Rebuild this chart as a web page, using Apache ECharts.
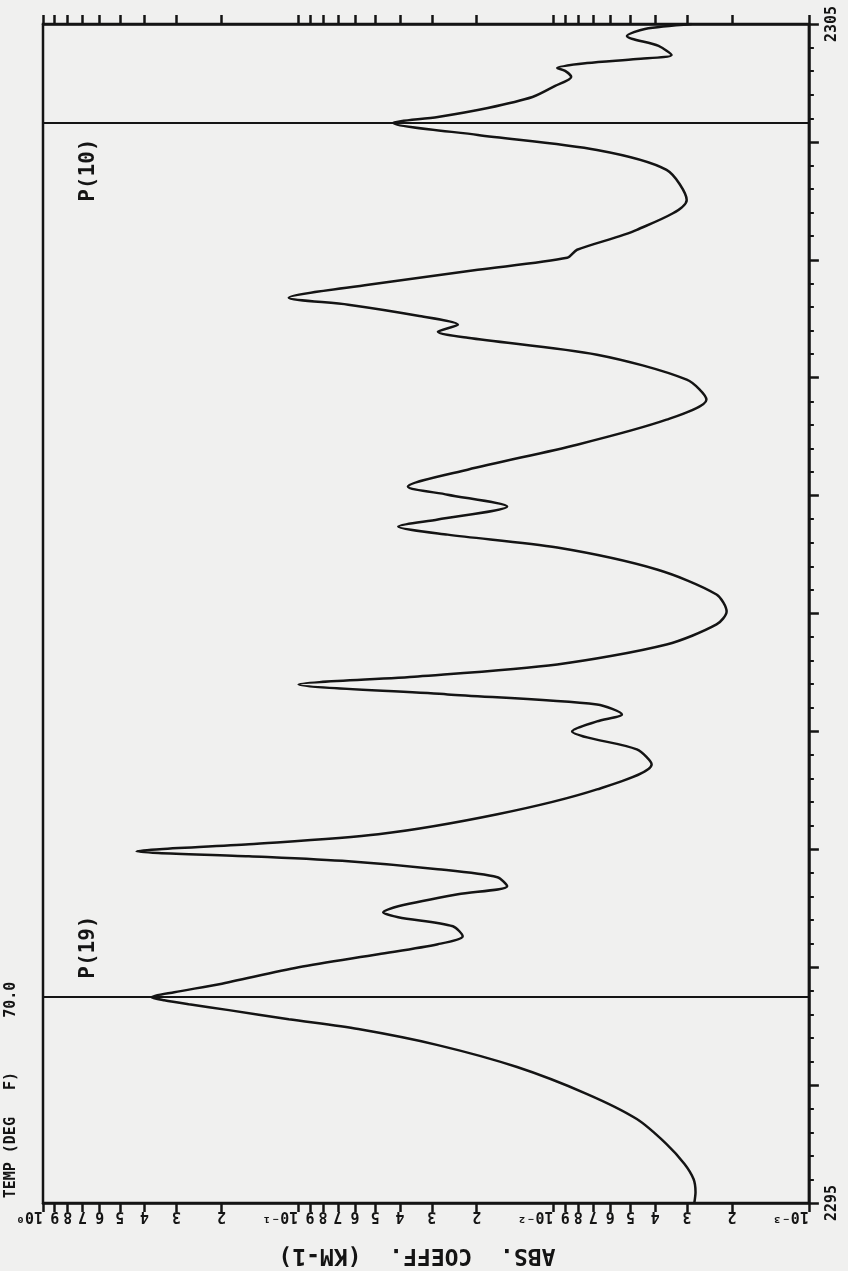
<!DOCTYPE html>
<html><head><meta charset="utf-8">
<script src="https://cdn.jsdelivr.net/npm/echarts@6/dist/echarts.min.js"></script>
<style>html,body{margin:0;padding:0;background:#f0f0ef;} #c{width:848px;height:1271px;}</style>
</head><body><div id="c"></div>
<script>
// wavenumber (cm-1) along the curve, and absorption coefficient (km-1)
const wavenumber = [2295.000,2295.093,2295.203,2295.331,2295.500,2295.712,2295.924,2296.153,2296.339,2296.475,
  2296.559,2296.636,2296.686,2296.720,2296.746,
  2296.788,2296.856,2297.000,2297.110,2297.195,2297.263,2297.347,2297.424,2297.466,2297.517,
  2297.619,2297.686,2297.763,2297.831,2297.898,2297.941,2297.983,2298.042,2298.127,2298.297,
  2298.508,2298.720,2298.847,2298.949,2299.000,2299.085,2299.144,2299.229,2299.314,2299.398,
  2299.466,2299.568,2299.737,2299.907,2300.017,2300.161,2300.373,2300.559,2300.669,2300.737,
  2300.797,2300.907,2301.008,2301.076,2301.220,2301.432,2301.644,2301.814,2301.983,2302.195,
  2302.339,2302.390,2302.449,2302.525,2302.619,2302.678,2302.788,2302.915,2303.017,2303.085,
  2303.254,2303.508,2303.763,2303.932,2304.059,
  2304.161,2304.212,2304.288,2304.381,2304.475,2304.551,2304.602,2304.627,2304.669,2304.703,
  2304.737,2304.814,2304.898,2304.958,2305.000];
const absCoef = [0.00281,0.00278,0.00283,0.00307,0.00361,0.00472,0.00739,0.0139,0.0284,0.0582,
  0.109,0.187,0.268,0.335,0.376,
  0.306,0.204,0.0997,0.0486,0.0284,0.0227,0.0248,0.0406,0.0465,0.0406,
  0.0237,0.0152,0.0166,0.0284,0.0637,0.156,0.430,0.156,0.0486,0.0166,
  0.00676,0.00413,0.00472,0.00739,0.00846,0.00676,0.00540,0.00676,0.0260,0.0997,
  0.0340,0.00968,0.00361,0.00230,0.00210,0.00230,0.00394,0.00968,0.0260,0.0406,
  0.0284,0.0152,0.0260,0.0372,0.0217,0.00809,0.00361,0.00252,0.00301,0.00676,
  0.0217,0.0284,0.0237,0.0340,0.0637,0.109,0.0532,0.0198,0.00885,0.00809,
  0.00472,0.00301,0.00361,0.00676,0.0198,
  0.0425,0.0284,0.0181,0.0121,0.00986,0.00853,0.00901,0.00968,0.00739,0.00472,
  0.00345,0.00388,0.00516,0.00439,0.00288];

// log axis ticks and their labels
const logTickValues = [0.001,0.002,0.003,0.004,0.005,0.006,0.007,0.008,0.009,
  0.01,0.02,0.03,0.04,0.05,0.06,0.07,0.08,0.09,
  0.1,0.2,0.3,0.4,0.5,0.6,0.7,0.8,0.9,1];
const digitTickValues = [0.002,0.003,0.004,0.005,0.006,0.007,0.008,0.009,
  0.02,0.03,0.04,0.05,0.06,0.07,0.08,0.09,
  0.2,0.3,0.4,0.5,0.6,0.7,0.8,0.9];
const decadeValues = [0.001, 0.01, 0.1, 1];
const decadeLabels = ['10\u207B\u00B3', '10\u207B\u00B2', '10\u207B\u00B9', '10\u2070'];
const wnLabelValues = [2295, 2305];

// emission lines
const lineNames = ['P(19)', 'P(10)'];
const lineWavenumbers = [2296.746, 2304.161];
const lineLabelCoef = [0.662, 0.662];
const lineLabelWn = [2297.17, 2303.76];

const INK = '#141414';
const FONT = '"DejaVu Sans Mono", monospace';

function digitLabel(val) {
  // leading digit of the tick value
  return String(Math.round(val / Math.pow(10, Math.floor(Math.log10(val) + 1e-9))));
}
function decadeLabel(val) {
  const i = decadeValues.findIndex(v => Math.abs(Math.log10(v) - Math.log10(val)) < 1e-6);
  if (i < 0) return '';
  const s = decadeLabels[i];
  return ' '.repeat(s.length) + s;
}

const labelStyle = { color: INK, fontFamily: FONT, fontWeight: 'bold', fontSize: 15 };
const lineStyleAxis = { color: INK, width: 2.5 };

function baseX(pos) {
  return {
    type: 'log', logBase: 10, min: 0.001, max: 1, inverse: true, position: pos,
    splitLine: { show: false }
  };
}

const xAxes = [
  Object.assign(baseX('bottom'), {
    axisLine: { show: true, onZero: false, lineStyle: lineStyleAxis },
    axisTick: { show: true, customValues: logTickValues, length: 9, lineStyle: lineStyleAxis },
    axisLabel: Object.assign({ show: true, customValues: digitTickValues, rotate: 180, margin: 5,
      showMinLabel: true, showMaxLabel: true, hideOverlap: false, formatter: digitLabel }, labelStyle),
    name: 'ABS.  COEFF.  (KM-1)', nameLocation: 'middle', nameGap: 40, nameRotate: 180,
    nameTextStyle: { color: INK, fontFamily: FONT, fontWeight: 'bold', fontSize: 23, padding: [0, 0, 0, 18] }
  }),
  Object.assign(baseX('top'), {
    axisLine: { show: true, onZero: false, lineStyle: lineStyleAxis },
    axisTick: { show: true, customValues: logTickValues, length: 9, lineStyle: lineStyleAxis },
    axisLabel: { show: false }
  }),
  Object.assign(baseX('bottom'), {
    axisLine: { show: false }, axisTick: { show: false },
    axisLabel: Object.assign({ show: true, customValues: decadeValues, rotate: 180, margin: 5,
      showMinLabel: true, showMaxLabel: true, hideOverlap: false, formatter: decadeLabel }, labelStyle)
  })
];

const chart = echarts.init(document.getElementById('c'), null, { renderer: 'canvas' });
chart.setOption({
  animation: false,
  backgroundColor: '#f0f0ef',
  grid: { left: 43, right: 35, top: 24, bottom: 67, show: true, borderColor: INK, borderWidth: 2.5,
    backgroundColor: 'transparent' },
  xAxis: xAxes,
  yAxis: {
    type: 'value', min: 2295, max: 2305, interval: 1, position: 'right',
    axisLine: { show: true, onZero: false, lineStyle: lineStyleAxis },
    axisTick: { show: true, length: 10, lineStyle: lineStyleAxis },
    minorTick: { show: true, splitNumber: 5, length: 5, lineStyle: { color: INK, width: 2 } },
    axisLabel: Object.assign({ customValues: wnLabelValues, rotate: 90, margin: 16,
      showMinLabel: true, showMaxLabel: true,
      formatter: v => String(Math.round(v)) }, labelStyle),
    splitLine: { show: false }
  },
  graphic: [{
    type: 'text', x: 11, y: 1090, rotation: Math.PI / 2,
    style: { text: 'TEMP (DEG   F)      70.0', fill: INK, font: 'bold 15px ' + FONT,
      textAlign: 'center', textVerticalAlign: 'middle' }
  }],
  series: [{
    type: 'line', xAxisIndex: 0, yAxisIndex: 0,
    data: wavenumber.map((w, i) => [absCoef[i], w]),
    showSymbol: false, smooth: 0.28,
    lineStyle: { color: INK, width: 2.5 },
    markLine: {
      silent: true, symbol: 'none', animation: false,
      label: { show: false },
      lineStyle: { color: INK, width: 2, type: 'solid' },
      data: lineWavenumbers.map(w => ({ yAxis: w }))
    }
  }, {
    type: 'scatter', xAxisIndex: 0, yAxisIndex: 0, symbolSize: 0,
    itemStyle: { opacity: 1 },
    data: lineNames.map((n, i) => ({ name: n, value: [lineLabelCoef[i], lineLabelWn[i]] })),
    label: { show: true, position: 'inside', rotate: 90, formatter: p => p.name, opacity: 1,
      color: INK, textBorderWidth: 0, fontFamily: FONT, fontWeight: 'bold', fontSize: 21 }
  }]
});
</script></body></html>
